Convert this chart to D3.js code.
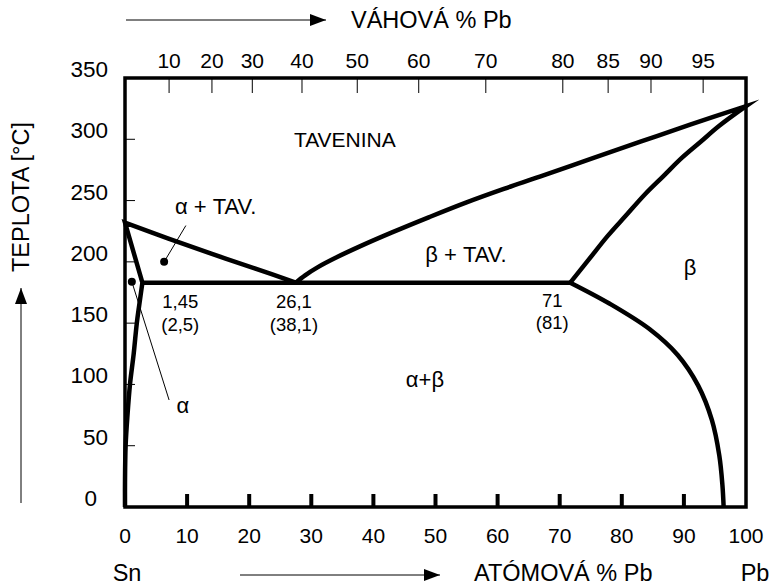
<!DOCTYPE html>
<html>
<head>
<meta charset="utf-8">
<script src="https://cdn.jsdelivr.net/npm/d3@7"></script>
<style>
  body { margin: 0; background: #fff; }
  svg text { font-family: "Liberation Sans", Arial, sans-serif; fill: #000; }
</style>
</head>
<body>
<div id="chart"></div>
<script>
// axis ticks
const atomTicks = [0, 10, 20, 30, 40, 50, 60, 70, 80, 90, 100];
const tempTicks = [0, 50, 100, 150, 200, 250, 300, 350];
const weightLabels = [10, 20, 30, 40, 50, 60, 70, 80, 85, 90, 95];
// where each weight % tick sits on the atomic % axis
const weightAtAtom = [7.1, 14.0, 20.5, 28.5, 37.4, 47.3, 58.1, 70.5, 77.8, 84.7, 93.1];

// phase boundaries [atom % Pb, temperature °C]
const alphaSolvus = [[0, 0], [0, 20], [0.1, 50], [0.4, 75], [0.8, 100], [1.4, 125], [1.9, 150], [2.3, 165], [2.8, 183]];
const alphaSolidus = [[2.8, 183], [0, 232]];
const liquidusSn = [[0, 232], [7, 219], [14, 206.5], [21, 194.5], [27.5, 183]];
const eutectic = [[2.8, 183], [71.7, 183]];
const betaSolvus = [[96.4, 0], [96.2, 18], [95.7, 42], [94.5, 71], [92.3, 99], [89, 124], [84.5, 145], [78, 166], [71.7, 183]];
const betaSolidus = [[71.7, 183], [74.7, 202], [77.7, 221], [80.7, 238], [83.7, 255], [86.7, 270], [89.7, 285], [92.7, 298], [95.7, 311], [100, 327]];
const liquidusPb = [[100, 327], [91, 312], [83, 298], [75, 284], [66.8, 269.5], [61, 259.5], [55, 248.5], [49, 236.5], [43, 224], [38, 213], [34, 203.5], [31, 195.5], [29, 189], [27.5, 183]];

const width = 774, height = 585;
const svg = d3.select("#chart").append("svg")
  .attr("width", width)
  .attr("height", height);

const x = d3.scaleLinear().domain([0, 100]).range([125, 746]);
const y = d3.scaleLinear().domain([0, 350]).range([507, 78]);

// arrow head
svg.append("defs").append("marker")
  .attr("id", "head")
  .attr("markerUnits", "userSpaceOnUse")
  .attr("viewBox", "0 0 16 12")
  .attr("refX", 16).attr("refY", 6)
  .attr("markerWidth", 16).attr("markerHeight", 12)
  .attr("orient", "auto")
  .append("path").attr("d", "M0,0L16,6L0,12Z").attr("fill", "#000");

// frame
svg.append("rect")
  .attr("x", x(0)).attr("y", y(350))
  .attr("width", x(100) - x(0)).attr("height", y(0) - y(350))
  .attr("fill", "none").attr("stroke", "#000").attr("stroke-width", 3.5);

// bottom ticks (atom %)
svg.selectAll(".btick").data(atomTicks.slice(1, -1)).enter().append("line")
  .attr("x1", d => x(d)).attr("x2", d => x(d))
  .attr("y1", y(0)).attr("y2", y(0) - 13)
  .attr("stroke", "#000").attr("stroke-width", 4);

svg.selectAll(".blabel").data(atomTicks).enter().append("text")
  .attr("x", d => x(d)).attr("y", 543)
  .attr("text-anchor", "middle").attr("font-size", 21)
  .text(d => d);

// left ticks (temperature)
svg.selectAll(".ltick").data(tempTicks.slice(1, -1)).enter().append("line")
  .attr("x1", x(0)).attr("x2", x(0) + 10)
  .attr("y1", d => y(d)).attr("y2", d => y(d))
  .attr("stroke", "#000").attr("stroke-width", 1);

svg.selectAll(".llabel").data(tempTicks).enter().append("text")
  .attr("x", d => d === 0 ? 97 : 108).attr("y", d => y(d) - 1)
  .attr("text-anchor", "end").attr("font-size", 22.5)
  .text(d => d);

// top ticks (weight %)
svg.selectAll(".ttick").data(weightAtAtom).enter().append("line")
  .attr("x1", d => x(d)).attr("x2", d => x(d))
  .attr("y1", y(350)).attr("y2", y(350) + 15)
  .attr("stroke", "#000").attr("stroke-width", 1);

svg.selectAll(".tlabel").data(weightLabels).enter().append("text")
  .attr("x", (d, i) => x(weightAtAtom[i])).attr("y", 68)
  .attr("text-anchor", "middle").attr("font-size", 21)
  .text(d => d);

// phase boundaries
const line = (pts, curve) => d3.line()
  .x(d => x(d[0])).y(d => y(d[1]))
  .curve(curve || d3.curveLinear)(pts);
// join several pieces into one path so the corners get mitred
const chain = (...parts) => parts.map((p, i) => i === 0 ? p : p.replace(/^M[^CLZ]*/, "")).join("");

const phase = svg.append("g")
  .attr("fill", "none").attr("stroke", "#000").attr("stroke-width", 4.5)
  .attr("stroke-linejoin", "miter").attr("stroke-miterlimit", 10);

phase.append("path").attr("d", chain(
  line(alphaSolvus, d3.curveCatmullRom),
  line(alphaSolidus),
  line(liquidusSn, d3.curveCatmullRom)));

phase.append("path").attr("d", line(eutectic));

phase.append("path").attr("d", chain(
  line(betaSolvus, d3.curveCatmullRom),
  line(betaSolidus, d3.curveCatmullRom),
  line(liquidusPb, d3.curveCatmullRom)));

// leader lines and dots
const leaders = [
  { from: [6.3, 200], to: [9.8, 229.6] },
  { from: [1.1, 183.8], to: [7.1, 87.3] }
];
svg.selectAll(".leader").data(leaders).enter().append("line")
  .attr("x1", d => x(d.from[0])).attr("y1", d => y(d.from[1]))
  .attr("x2", d => x(d.to[0])).attr("y2", d => y(d.to[1]))
  .attr("stroke", "#000").attr("stroke-width", 1);
svg.selectAll(".dot").data(leaders).enter().append("circle")
  .attr("cx", d => x(d.from[0])).attr("cy", d => y(d.from[1]))
  .attr("r", 4).attr("fill", "#000");

// region and point labels
const labels = [
  { t: "TAVENINA", at: [35.4, 293.5], size: 21, anchor: "middle" },
  { t: "α + TAV.", at: [8.05, 239], size: 22, anchor: "start" },
  { t: "β + TAV.", at: [54.9, 200], size: 22, anchor: "middle" },
  { t: "β", at: [91, 189], size: 22, anchor: "middle" },
  { t: "α+β", at: [48.3, 98], size: 22, anchor: "middle" },
  { t: "α", at: [9.3, 76.7], size: 22, anchor: "middle" },
  { t: "1,45", at: [8.9, 162], size: 18.5, anchor: "middle" },
  { t: "(2,5)", at: [8.9, 143.5], size: 18.5, anchor: "middle" },
  { t: "26,1", at: [27.2, 162], size: 18.5, anchor: "middle" },
  { t: "(38,1)", at: [27.2, 143.5], size: 18.5, anchor: "middle" },
  { t: "71", at: [68.8, 163.5], size: 18.5, anchor: "middle" },
  { t: "(81)", at: [68.8, 145], size: 18.5, anchor: "middle" }
];
svg.selectAll(".lab").data(labels).enter().append("text")
  .attr("x", d => x(d.at[0])).attr("y", d => y(d.at[1]))
  .attr("text-anchor", d => d.anchor).attr("font-size", d => d.size)
  .text(d => d.t);

// axis titles with arrows
svg.append("line").attr("x1", 126).attr("y1", 20).attr("x2", 326).attr("y2", 20)
  .attr("stroke", "#000").attr("stroke-width", 1).attr("marker-end", "url(#head)");
svg.append("text").attr("x", 351).attr("y", 28).attr("font-size", 23.5).text("VÁHOVÁ % Pb");

svg.append("line").attr("x1", 240).attr("y1", 575).attr("x2", 440).attr("y2", 575)
  .attr("stroke", "#000").attr("stroke-width", 1).attr("marker-end", "url(#head)");
svg.append("text").attr("x", 474).attr("y", 581).attr("font-size", 23.5).text("ATÓMOVÁ % Pb");
svg.append("text").attr("x", x(0) + 2).attr("y", 581).attr("text-anchor", "middle").attr("font-size", 23.5).text("Sn");
svg.append("text").attr("x", x(100) + 9).attr("y", 581).attr("text-anchor", "middle").attr("font-size", 23.5).text("Pb");

svg.append("line").attr("x1", 21).attr("y1", 503).attr("x2", 21).attr("y2", 288)
  .attr("stroke", "#000").attr("stroke-width", 1).attr("marker-end", "url(#head)");
svg.append("text")
  .attr("transform", "translate(29,197) rotate(-90)")
  .attr("text-anchor", "middle").attr("font-size", 23.5)
  .text("TEPLOTA [°C]");
</script>
</body>
</html>
